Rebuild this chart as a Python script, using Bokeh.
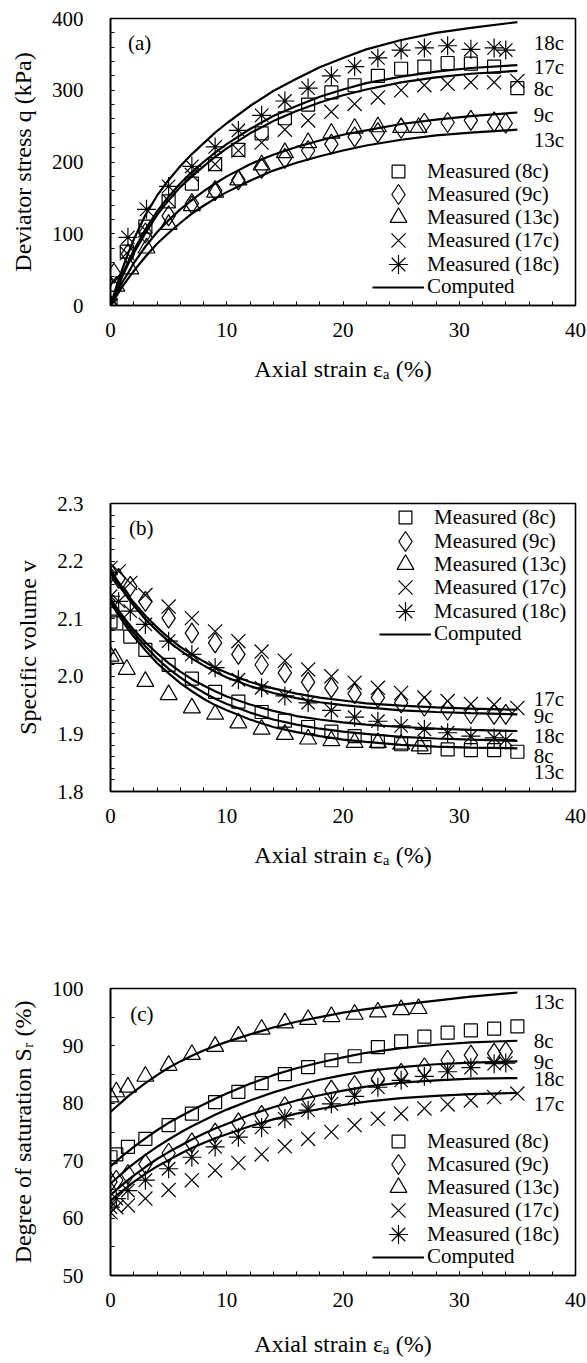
from bokeh.plotting import figure
from bokeh.layouts import column
from bokeh.models import Legend, LegendItem, FixedTicker, Range1d, NumeralTickFormatter
from bokeh.core.properties import value
from bokeh.embed import file_html
from bokeh.resources import INLINE

FONT = "Liberation Serif"

# ---------------- (a) deviator stress ----------------
a_x_8c = [0, 1.4, 3, 5, 7, 9, 11, 13, 15, 17, 19, 21, 23, 25, 27, 29, 31, 33, 35]
a_q_8c = [0, 75, 110, 145, 170, 197, 217, 240, 261, 280, 297, 307, 320, 330, 333, 338, 337, 333, 303]
a_x_9c = [0, 0.3, 1.5, 3, 5, 7, 9, 11, 13, 15, 17, 19, 21, 23, 25, 27, 29, 31, 33, 34]
a_q_9c = [0, 45, 72, 101, 125, 142, 160, 175, 191, 205, 216, 225, 235, 241, 247, 254, 255, 258, 256, 254]
a_x_13c = [0, 0.5, 1.7, 3.1, 5, 7, 9, 11, 13, 15, 17, 19, 21, 23, 25, 26.5]
a_q_13c = [0, 27, 51, 80, 113, 139, 158, 175, 196, 213, 227, 240, 247, 249, 248, 248]
a_x_17c = [0, 0.3, 1.4, 3, 5, 7, 9, 11, 13, 15, 17, 19, 21, 23, 25, 27, 29, 31, 33, 35]
a_q_17c = [0, 35, 73, 105, 146, 182, 197, 216, 227, 245, 258, 270, 281, 290, 300, 307, 309, 311, 311, 313]
a_x_18c = [0, 1.5, 3.1, 5, 7, 9, 11, 13, 15, 17, 19, 21, 23, 25, 27, 29, 31, 33, 34]
a_q_18c = [0, 95, 134, 166, 194, 221, 244, 265, 285, 303, 320, 333, 345, 356, 359, 362, 357, 359, 356]

# computed curves, sampled along the strain axis
calc_x = [0, 0.5, 1, 1.5, 2, 3, 4, 5, 6, 7, 8, 9, 10, 12, 14, 16, 18, 20, 22, 25, 28, 31, 35]
a_calc_8c = [0, 20, 40, 57, 73, 101, 126, 147, 165, 180, 194, 207, 219, 240, 257, 271, 283,
             293, 301, 311, 318, 323, 327]
a_calc_9c = [0, 16, 32, 45, 59, 82, 102, 119, 134, 147, 159, 170, 180, 197, 210, 221, 230,
             238, 244, 253, 259, 264, 269]
a_calc_13c = [0, 13, 26, 37, 48, 68, 86, 101, 115, 128, 139, 149, 158, 174, 188, 199, 208,
              216, 223, 231, 237, 241, 245]
a_calc_17c = [0, 21, 42, 60, 77, 106, 131, 152, 170, 186, 200, 213, 225, 246, 264, 278, 291,
              301, 310, 319, 326, 331, 335]
a_calc_18c = [0, 26, 50, 72, 92, 126, 153, 175, 194, 211, 226, 241, 254, 278, 299, 316, 332,
              345, 357, 370, 380, 387, 395]
a_tag_text = ["18c", "17c", "8c", "9c", "13c"]
a_tag_y = [366, 332, 302, 265, 230]

# ---------------- (b) specific volume ----------------
b_x_8c = [0, 0.5, 1.7, 3, 5, 7, 9, 11, 13, 15, 17, 19, 21, 23, 25, 27, 29, 31, 33, 35]
b_v_8c = [2.095, 2.092, 2.069, 2.046, 2.020, 1.996, 1.973, 1.956, 1.938, 1.923, 1.912, 1.904,
          1.896, 1.887, 1.882, 1.877, 1.873, 1.872, 1.872, 1.869]
b_x_9c = [0, 0.7, 1.7, 3, 5, 7, 9, 11, 13, 15, 17, 19, 21, 23, 25, 27, 29, 31, 33, 34]
b_v_9c = [2.179, 2.170, 2.156, 2.130, 2.101, 2.075, 2.058, 2.038, 2.020, 2.006, 1.990, 1.980,
          1.970, 1.963, 1.954, 1.948, 1.941, 1.935, 1.934, 1.934]
b_x_13c = [0, 0.4, 1.4, 3, 5, 7, 9, 11, 13, 15, 17, 19, 21, 23, 25, 26.6]
b_v_13c = [2.035, 2.031, 2.012, 1.991, 1.968, 1.945, 1.934, 1.919, 1.908, 1.899, 1.891, 1.888,
           1.885, 1.885, 1.882, 1.879]
b_x_17c = [0, 0.7, 1.7, 3, 5, 7, 9, 11, 13, 15, 17, 19, 21, 23, 25, 27, 29, 31, 33, 35]
b_v_17c = [2.188, 2.182, 2.162, 2.141, 2.121, 2.101, 2.078, 2.061, 2.043, 2.027, 2.012, 2.000,
           1.989, 1.980, 1.971, 1.963, 1.957, 1.952, 1.951, 1.945]
b_x_18c = [0, 0.7, 1.7, 3, 5, 7, 9, 11, 13, 15, 17, 19, 21, 23, 25, 27, 29, 31, 33, 34]
b_v_18c = [2.139, 2.130, 2.113, 2.090, 2.061, 2.038, 2.015, 1.994, 1.980, 1.966, 1.954, 1.941,
           1.929, 1.922, 1.914, 1.908, 1.902, 1.896, 1.893, 1.890]
b_calc_8c = [2.132, 2.116, 2.102, 2.088, 2.075, 2.052, 2.031, 2.013, 1.998, 1.984, 1.972, 1.961,
             1.952, 1.937, 1.925, 1.916, 1.909, 1.904, 1.900, 1.895, 1.892, 1.890, 1.888]
b_calc_9c = [2.180, 2.164, 2.150, 2.136, 2.123, 2.099, 2.079, 2.060, 2.045, 2.031, 2.019, 2.008,
             1.998, 1.983, 1.971, 1.962, 1.955, 1.950, 1.946, 1.941, 1.938, 1.936, 1.934]
b_calc_13c = [2.128, 2.112, 2.097, 2.082, 2.069, 2.045, 2.023, 2.005, 1.988, 1.974, 1.961, 1.950,
              1.941, 1.925, 1.912, 1.903, 1.896, 1.890, 1.886, 1.881, 1.878, 1.876, 1.875]
b_calc_17c = [2.185, 2.169, 2.155, 2.141, 2.128, 2.105, 2.085, 2.067, 2.051, 2.038, 2.026, 2.015,
              2.006, 1.990, 1.979, 1.970, 1.963, 1.958, 1.953, 1.949, 1.946, 1.944, 1.942]
b_calc_18c = [2.135, 2.120, 2.106, 2.093, 2.081, 2.059, 2.040, 2.023, 2.008, 1.995, 1.984, 1.974,
              1.965, 1.951, 1.940, 1.931, 1.925, 1.920, 1.916, 1.912, 1.909, 1.907, 1.905]
b_tag_text = ["17c", "9c", "18c", "8c", "13c"]
b_tag_y = [1.960, 1.931, 1.896, 1.862, 1.833]

# ---------------- (c) degree of saturation ----------------
c_x_8c = [0, 0.5, 1.5, 3, 5, 7, 9, 11, 13, 15, 17, 19, 21, 23, 25, 27, 29, 31, 33, 35]
c_s_8c = [70.6, 71.1, 72.4, 73.8, 76.2, 78.2, 80.2, 82.0, 83.5, 85.1, 86.3, 87.5, 88.2, 89.8,
          90.8, 91.6, 92.3, 92.7, 93.0, 93.4]
c_x_9c = [0, 0.5, 1.5, 3, 5, 7, 9, 11, 13, 15, 17, 19, 21, 23, 25, 27, 29, 31, 33, 34]
c_s_9c = [66.3, 66.6, 67.6, 69.4, 71.3, 73.1, 74.8, 76.6, 77.9, 79.4, 80.8, 82.3, 83.1, 84.3,
          85.2, 86.2, 87.5, 88.4, 88.7, 89.0]
c_x_13c = [0, 0.5, 1.5, 3, 5, 7, 9, 11, 13, 15, 17, 19, 21, 23, 25, 26.5]
c_s_13c = [81.1, 82.0, 82.8, 84.7, 86.6, 88.5, 89.9, 91.7, 92.9, 94.0, 94.6, 95.1, 95.5, 95.9, 96.3, 96.5]
c_x_17c = [0, 0.5, 1.5, 3, 5, 7, 9, 11, 13, 15, 17, 19, 21, 23, 25, 27, 29, 31, 33, 35]
c_s_17c = [61.0, 61.9, 62.2, 63.4, 64.9, 66.6, 68.3, 69.6, 71.1, 72.5, 73.8, 75.0, 76.2, 77.3,
           78.2, 79.1, 79.8, 80.5, 81.1, 81.7]
c_x_18c = [0, 0.5, 1.5, 3, 5, 7, 9, 11, 13, 15, 17, 19, 21, 23, 25, 27, 29, 31, 33, 34]
c_s_18c = [61.9, 63.4, 64.8, 66.6, 68.6, 70.6, 72.4, 74.1, 75.8, 77.3, 78.8, 79.9, 81.2, 82.8,
           84.0, 84.7, 85.5, 86.2, 86.9, 87.0]
c_calc_8c = [69.0, 69.9, 70.8, 71.6, 72.4, 73.9, 75.3, 76.6, 77.7, 78.8, 79.8, 80.8, 81.7, 83.4,
             84.9, 86.1, 87.1, 88.0, 88.8, 89.6, 90.2, 90.6, 90.9]
c_calc_9c = [66.0, 66.9, 67.8, 68.7, 69.5, 71.0, 72.4, 73.7, 74.9, 76.0, 77.0, 78.0, 78.9, 80.5,
             81.9, 83.1, 84.1, 84.9, 85.6, 86.3, 86.8, 87.1, 87.3]
c_calc_13c = [78.5, 79.4, 80.3, 81.2, 82.0, 83.5, 84.9, 86.2, 87.3, 88.3, 89.2, 90.0, 90.7, 92.0,
              93.2, 94.2, 95.0, 95.8, 96.4, 97.2, 97.9, 98.6, 99.3]
c_calc_17c = [63.0, 63.9, 64.7, 65.5, 66.3, 67.7, 69.0, 70.1, 71.2, 72.2, 73.1, 73.9, 74.6, 76.0,
              77.2, 78.2, 79.0, 79.7, 80.3, 80.9, 81.3, 81.6, 81.8]
c_calc_18c = [64.0, 64.9, 65.8, 66.6, 67.4, 68.9, 70.3, 71.5, 72.6, 73.7, 74.7, 75.6, 76.4, 78.0,
              79.3, 80.5, 81.4, 82.2, 82.9, 83.6, 84.0, 84.3, 84.4]
c_tag_text = ["13c", "8c", "9c", "18c", "17c"]
c_tag_y = [97.7, 90.9, 87.2, 84.3, 79.9]

series_names = ["8c", "9c", "13c", "17c", "18c"]
markers = {"8c": ("square", 13), "9c": ("diamond", 20), "13c": ("triangle", 17),
           "17c": ("x", 20), "18c": ("asterisk", 19)}
x_ticks = [0, 10, 20, 30, 40]
x_label = "Axial strain εₐ (%)"

LEGEND_ROW = 23.3      # vertical pitch of the legend rows, px
LEGEND_GLYPH_W = 52    # width of the key column, px


def make_panel(height, b_top, b_bottom, b_left, y_range, y_ticks, y_minor, y_label,
               measured, calc, tag_text, tag_y, panel_tag, tag_pos, legend_labels,
               legend_left, legend_last_row, xlab_standoff, y_format=None):
    p = figure(width=587, height=height, output_backend="svg", toolbar_location=None,
               x_range=Range1d(0, 40), y_range=Range1d(*y_range),
               min_border_top=b_top, min_border_bottom=b_bottom,
               min_border_left=b_left, min_border_right=12)
    p.grid.visible = False
    p.outline_line_color = "black"
    p.outline_line_width = 1.6
    p.background_fill_color = "white"
    p.border_fill_color = "white"

    for ax, ticks, minor in ((p.xaxis, x_ticks, list(range(0, 41, 2))), (p.yaxis, y_ticks, y_minor)):
        ax.ticker = FixedTicker(ticks=ticks, minor_ticks=minor)
        ax.axis_line_color = "black"
        ax.axis_line_width = 1.6
        ax.major_tick_in = 4
        ax.major_tick_out = 0
        ax.minor_tick_in = 4
        ax.minor_tick_out = 0
        ax.major_tick_line_color = "black"
        ax.minor_tick_line_color = "black"
        ax.major_label_text_font = FONT
        ax.major_label_text_font_size = "21px"
        ax.major_label_text_color = "black"
        ax.axis_label_text_font = FONT
        ax.axis_label_text_font_size = "24px"
        ax.axis_label_text_font_style = "normal"
        ax.axis_label_text_color = "black"
    if y_format:
        p.yaxis.formatter = NumeralTickFormatter(format=y_format)
    p.xaxis.major_label_standoff = 17
    p.xaxis.axis_label_standoff = xlab_standoff
    p.yaxis.major_label_standoff = 27
    p.yaxis.axis_label_standoff = 13
    p.xaxis.axis_label = x_label
    p.yaxis.axis_label = y_label

    entries = []   # (label, renderer, key height)
    for name, lab in zip(series_names, legend_labels):
        xs, ys = measured[name]
        mk, sz = markers[name]
        r = p.scatter(xs, ys, marker=mk, size=sz, fill_color=None,
                      line_color="black", line_width=1.2)
        # a legend key marker is drawn at 0.4 x its box, so size the box from the marker
        entries.append((lab, r, sz / 0.4))
    line_r = None
    for name in series_names:
        line_r = p.line(calc_x, calc[name], line_color="black", line_width=2.2)
    entries.append(("Computed", line_r, 24))

    p.text(x=[36.4] * len(tag_text), y=tag_y, text=tag_text, text_font=value(FONT),
           text_font_size="21px", text_baseline="middle", text_align="left", text_color="black")
    p.text(x=[tag_pos[0]], y=[tag_pos[1]], text=[panel_tag], text_font=value(FONT),
           text_font_size="21px", text_baseline="middle", text_align="left", text_color="black")

    # one single-row legend per entry, so the rows can sit closer than the font's line box
    n = len(entries)
    for i, (lab, r, key_h) in enumerate(entries):
        centre = legend_last_row + (n - 1 - i) * LEGEND_ROW
        key_h = int(round(key_h))
        lg = Legend(items=[LegendItem(label=lab, renderers=[r])],
                    location=(legend_left, int(round(centre - key_h / 2))))
        lg.label_text_font = FONT
        lg.label_text_font_size = "21px"
        lg.label_text_color = "black"
        lg.glyph_width = LEGEND_GLYPH_W
        lg.glyph_height = key_h
        lg.label_height = key_h
        lg.label_standoff = 3
        lg.spacing = 0
        lg.padding = 0
        lg.margin = 0
        lg.background_fill_alpha = 0
        lg.border_line_alpha = 0
        p.add_layout(lg)
    return p


pa = make_panel(
    420, 18, 115, 110, (0, 400), [0, 100, 200, 300, 400], list(range(0, 401, 20)),
    "Deviator stress q (kPa)",
    {"8c": (a_x_8c, a_q_8c), "9c": (a_x_9c, a_q_9c), "13c": (a_x_13c, a_q_13c),
     "17c": (a_x_17c, a_q_17c), "18c": (a_x_18c, a_q_18c)},
    {"8c": a_calc_8c, "9c": a_calc_9c, "13c": a_calc_13c, "17c": a_calc_17c, "18c": a_calc_18c},
    a_tag_text, a_tag_y, "(a)", (1.5, 366),
    ["Measured (8c)", "Measured (9c)", "Measured (13c)", "Measured (17c)", "Measured (18c)"],
    262, 18, 16)

pb = make_panel(
    530, 83, 159, 103, (1.8, 2.3), [1.8, 1.9, 2.0, 2.1, 2.2, 2.3],
    [round(1.8 + 0.02 * i, 2) for i in range(26)],
    "Specific volume v",
    {"8c": (b_x_8c, b_v_8c), "9c": (b_x_9c, b_v_9c), "13c": (b_x_13c, b_v_13c),
     "17c": (b_x_17c, b_v_17c), "18c": (b_x_18c, b_v_18c)},
    {"8c": b_calc_8c, "9c": b_calc_9c, "13c": b_calc_13c, "17c": b_calc_17c, "18c": b_calc_18c},
    b_tag_text, b_tag_y, "(b)", (1.6, 2.258),
    ["Measured (8c)", "Measured (9c)", "Measured (13c)", "Measured (17c)", "Mcasured (18c)"],
    269, 157, 16, "0.0")

pc = make_panel(
    413, 38, 88, 110, (50, 100), [50, 60, 70, 80, 90, 100], list(range(50, 101, 5)),
    "Degree of saturation Sᵣ (%)",
    {"8c": (c_x_8c, c_s_8c), "9c": (c_x_9c, c_s_9c), "13c": (c_x_13c, c_s_13c),
     "17c": (c_x_17c, c_s_17c), "18c": (c_x_18c, c_s_18c)},
    {"8c": c_calc_8c, "9c": c_calc_9c, "13c": c_calc_13c, "17c": c_calc_17c, "18c": c_calc_18c},
    c_tag_text, c_tag_y, "(c)", (1.7, 95.6),
    ["Measured (8c)", "Mcasured (9c)", "Measured (13c)", "Measured (17c)", "Measured (18c)"],
    262, 18, 21)

layout = column(pa, pb, pc, spacing=0)
open("out.html", "w").write(file_html(layout, INLINE))
